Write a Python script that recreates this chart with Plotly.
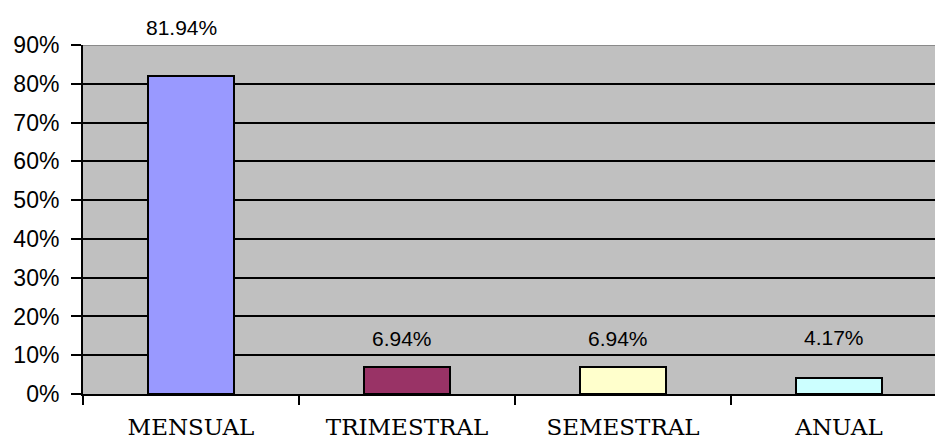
import plotly.graph_objects as go

categories = ["MENSUAL", "TRIMESTRAL", "SEMESTRAL", "ANUAL"]
values = [0.8194, 0.0694, 0.0694, 0.0417]
value_labels = ["81.94%", "6.94%", "6.94%", "4.17%"]
bar_colors = ["#9999FF", "#993366", "#FFFFCC", "#CCFFFF"]
label_shift_px = [49, 29, 29, 40]  # style: distance of label centre above bar top
label_xshift_px = [-10, -5, -5, -5]

W, H = 935, 445
L, T, B = 83, 45, 51
cat_px = 216
plot_w = W - L
x_max = -0.5 + plot_w / cat_px

fig = go.Figure()
fig.add_trace(go.Bar(
    x=categories, y=values, width=0.4,
    marker=dict(color=bar_colors, line=dict(color="black", width=2)),
    hoverinfo="skip",
))

for c, v, t, s, xs in zip(categories, values, value_labels, label_shift_px, label_xshift_px):
    fig.add_annotation(x=c, y=v, text=t, showarrow=False, yanchor="middle",
                       yshift=s, xshift=xs,
                       font=dict(family="Liberation Sans", size=21, color="black"))

fig.add_shape(type="line", xref="paper", yref="y", x0=0, x1=1, y0=0.9, y1=0.9,
              line=dict(color="#8a8a8a", width=2), layer="above")

fig.update_layout(
    width=W, height=H,
    margin=dict(l=L, r=0, t=T, b=B),
    paper_bgcolor="white", plot_bgcolor="#C0C0C0",
    showlegend=False,
    bargap=0,
)
fig.update_xaxes(
    type="category", range=[-0.5, x_max],
    showline=True, linecolor="black", linewidth=2,
    ticks="outside", tickson="boundaries", ticklen=9, tickwidth=2, tickcolor="black",
    showgrid=False, automargin=False,
    ticklabelstandoff=11,
    tickfont=dict(family="DejaVu Serif", size=23, color="black"),
)
fig.update_yaxes(
    range=[0, 0.9], dtick=0.1, tickformat=".0%",
    showline=True, linecolor="black", linewidth=2,
    ticks="outside", ticklen=10, tickwidth=2, tickcolor="black",
    showgrid=True, gridcolor="black", gridwidth=2,
    zeroline=False, automargin=False,
    ticklabelstandoff=7,
    tickfont=dict(family="Liberation Sans", size=23, color="black"),
)

fig.write_html("out.html")
